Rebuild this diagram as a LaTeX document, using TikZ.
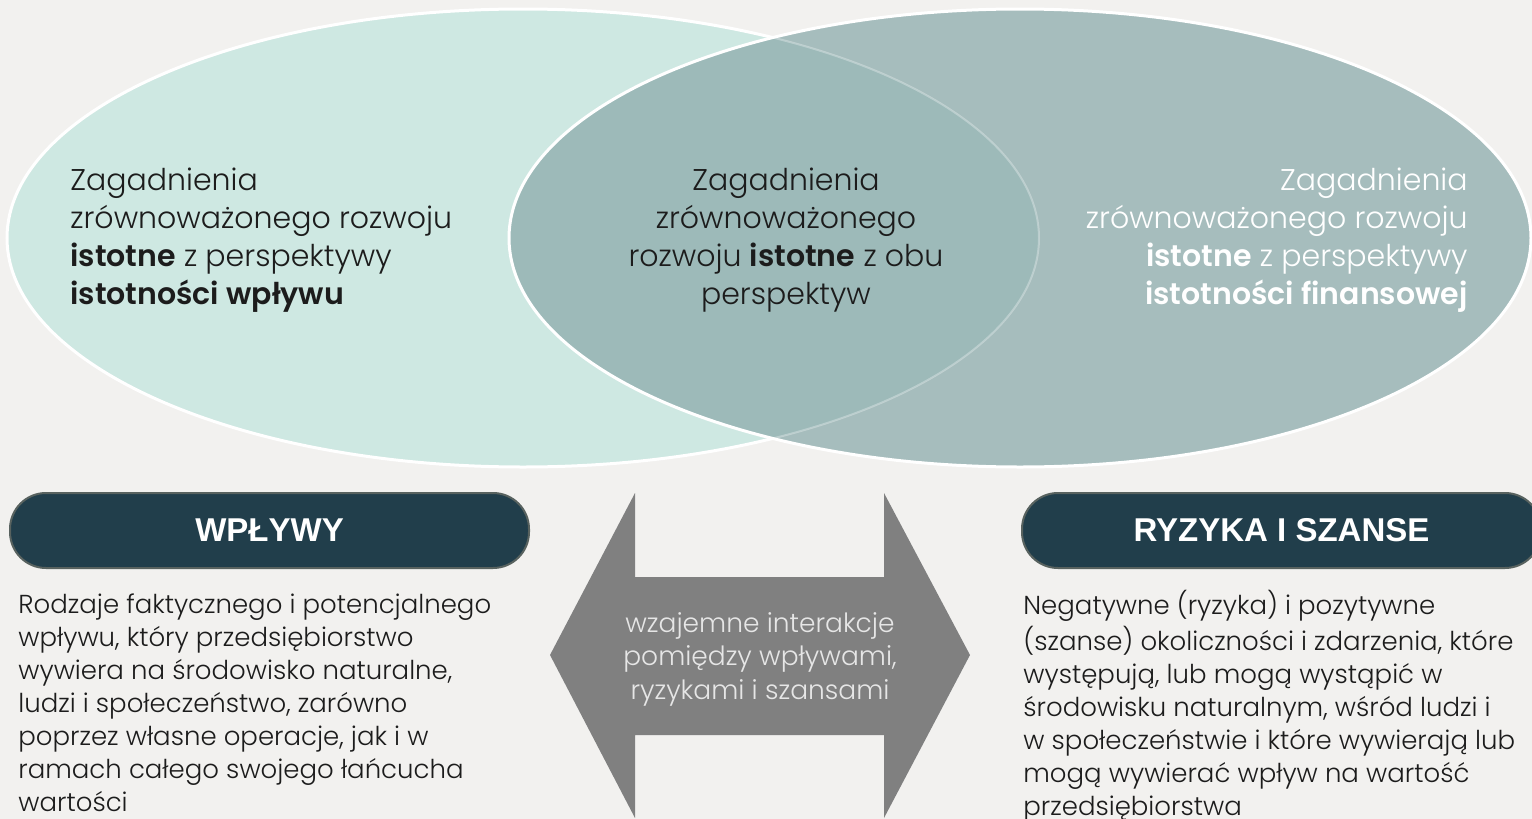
\documentclass[tikz,border=0pt]{standalone}
\usepackage{fontspec}
\setmainfont{Poppins}[UprightFont=* Light, BoldFont=* SemiBold]
\newfontfamily\headfont{Liberation Sans}

\definecolor{bg}{HTML}{F2F1EF}
\definecolor{mint}{HTML}{CEE8E2}
\definecolor{sage}{HTML}{A6BDBD}
\definecolor{lens}{HTML}{9DBAB9}
\definecolor{navy}{HTML}{213E4B}
\definecolor{rim}{HTML}{58625F}
\definecolor{arrowgrey}{HTML}{808080}
\definecolor{arrowtext}{HTML}{E6E6E6}
\definecolor{ink}{HTML}{1C1C1C}

\tikzset{
  banner/.style={fill=navy, draw=rim, line width=1pt, rounded corners=18pt,
    minimum width=259.5pt, minimum height=37.5pt, text=white,
    font=\headfont\bfseries\fontsize{16.5}{20}\selectfont},
  bodytext/.style={anchor=north west, inner sep=0pt, align=left, text=ink,
    font=\fontsize{13}{16.5}\selectfont},
  venntext/.style={inner sep=0pt, text=ink, font=\fontsize{15}{19}\selectfont},
}

\begin{document}
\begin{tikzpicture}[x=0.5pt,y=-0.5pt]

\useasboundingbox (0,0) rectangle (1532,819);
\fill[bg] (0,0) rectangle (1532,819);
\clip (0,0) rectangle (1532,819);

\fill[mint] (523,238) ellipse [x radius=516, y radius=229];
\draw[white, line width=1.5pt] (523,238) ellipse [x radius=516, y radius=229];
\fill[sage] (1020,238) ellipse [x radius=511, y radius=229];
\begin{scope}
\clip (523,238) ellipse [x radius=516, y radius=229];
\fill[lens] (1020,238) ellipse [x radius=511, y radius=229];
\end{scope}
\draw[white, line width=1.5pt] (1020,238) ellipse [x radius=511, y radius=229];
\draw[white, opacity=0.3, line width=1pt] (523,238) ellipse [x radius=516, y radius=229];

\node[venntext, anchor=north west, align=left] (wplyw) at (70,168)
  {Zagadnienia\\zrównoważonego rozwoju\\\textbf{istotne} z perspektywy\\\textbf{istotności wpływu}};
\node[venntext, anchor=north, align=center] (obie) at (786,168)
  {Zagadnienia\\zrównoważonego\\rozwoju \textbf{istotne} z obu\\perspektyw};
\node[venntext, anchor=north east, align=right, text=white] (finanse) at (1468,168)
  {Zagadnienia\\zrównoważonego rozwoju\\\textbf{istotne} z perspektywy\\\textbf{istotności finansowej}};

\fill[arrowgrey] (550,655) -- (635,493) -- (635,577) -- (884,577) -- (884,493)
  -- (970,655) -- (884,818) -- (884,735) -- (635,735) -- (635,818) -- cycle;
\node[inner sep=0pt, align=center, text=arrowtext, font=\fontsize{13.25}{16.75}\selectfont]
  (interakcje) at (760,659) {wzajemne interakcje\\pomiędzy wpływami,\\ryzykami i szansami};

\node[banner] (wplywy) at (269.5,530.5) {WPŁYWY};
\node[banner] (ryzyka) at (1281.5,530.5) {RYZYKA I SZANSE};

\node[bodytext] (opis wplywy) at (18,590)
  {\strut Rodzaje faktycznego i potencjalnego\\wpływu, który przedsiębiorstwo\\wywiera na środowisko naturalne,\\ludzi i społeczeństwo, zarówno\\poprzez własne operacje, jak i w\\ramach całego swojego łańcucha\\wartości};
\node[bodytext] (opis ryzyka) at (1023,590)
  {\strut Negatywne (ryzyka) i pozytywne\\(szanse) okoliczności i zdarzenia, które\\występują, lub mogą wystąpić w\\środowisku naturalnym, wśród ludzi i\\w społeczeństwie i które wywierają lub\\mogą wywierać wpływ na wartość\\przedsiębiorstwa};

\end{tikzpicture}
\end{document}
